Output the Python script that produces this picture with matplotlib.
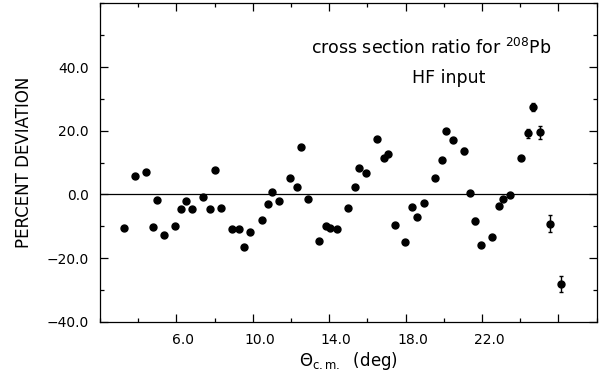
import matplotlib
matplotlib.use("Agg")
import matplotlib.pyplot as plt
import matplotlib.transforms as mtransforms
from matplotlib.ticker import MultipleLocator, FixedLocator

# scattering angle (deg) and percent deviation
theta = [3.26, 3.82, 4.39, 4.76, 4.97, 5.34, 5.91, 6.26, 6.49, 6.83,
         7.41, 7.77, 8.00, 8.35, 8.93, 9.28, 9.52, 9.85, 10.46, 10.81,
         11.02, 11.39, 11.96, 12.31, 12.54, 12.90, 13.45, 13.83, 14.02, 14.39,
         14.97, 15.33, 15.56, 15.93, 16.50, 16.85, 17.06, 17.43, 17.98, 18.35,
         18.58, 18.95, 19.52, 19.89, 20.13, 20.48, 21.06, 21.39, 21.63, 21.96,
         22.54, 22.89, 23.12, 23.48, 24.06, 24.42, 24.65, 25.02, 25.58, 26.14]
deviation = [-10.6, 5.9, 6.9, -10.4, -1.9, -12.7, -10.0, -4.6, -2.1, -4.7,
             -0.8, -4.7, 7.8, -4.4, -11.0, -10.9, -16.6, -11.9, -8.1, -3.1,
             0.75, -2.2, 5.3, 2.4, 14.9, -1.5, -14.7, -9.8, -10.6, -11.0,
             -4.4, 2.4, 8.2, 6.7, 17.3, 11.3, 12.6, -9.7, -14.9, -3.9,
             -7.1, -2.7, 5.2, 10.8, 19.9, 17.2, 13.6, 0.4, -8.4, -15.8,
             -13.4, -3.6, -1.4, -0.3, 11.3, 19.2, 27.5, 19.5, -9.2, -28.2]
error = [0, 0, 0, 0, 0, 0, 0, 0, 0, 0,
         0, 0, 0, 0, 0, 0, 0, 0, 0, 0,
         0, 0, 0, 0, 0, 0, 0, 0, 0, 0,
         0, 0, 0, 0, 0, 0, 0, 0, 0, 0,
         0, 0, 0, 0, 0, 0, 1.0, 0, 1.0, 0,
         0, 0, 0, 0, 0, 1.4, 1.2, 2.1, 2.6, 2.5]

x_labels = ["6.0", "10.0", "14.0", "18.0", "22.0"]
y_labels = ["-40.0", "-20.0", "0.0", "20.0", "40.0"]

fig = plt.figure(figsize=(6.01, 3.77), dpi=100)
ax = fig.add_axes([0.1664, 0.1467, 0.8264, 0.8443])

ax.axhline(0, color="black", lw=0.9)
ax.plot(theta, deviation, "o", color="black", ms=5)
# only draw bars where an error was visible
ex = [t for t, e in zip(theta, error) if e > 0]
ey = [d for d, e in zip(deviation, error) if e > 0]
ee = [e for e in error if e > 0]
ax.errorbar(ex, ey, yerr=ee, fmt="none", ecolor="black", elinewidth=1, capsize=1.5)

ax.set_xlim(2, 28)
ax.set_ylim(-40, 60)

ax.xaxis.set_major_locator(FixedLocator([6, 10, 14, 18, 22, 26]))
ax.xaxis.set_minor_locator(MultipleLocator(2))
ax.set_xticklabels(x_labels + [""])
ax.yaxis.set_major_locator(FixedLocator([-40, -20, 0, 20, 40]))
ax.yaxis.set_minor_locator(MultipleLocator(10))
ax.set_yticklabels([s.replace("-", "\u2212") for s in y_labels])

ax.tick_params(which="both", direction="in", top=True, right=True, width=0.9)
ax.tick_params(which="major", length=6)
ax.tick_params(which="minor", length=3)
ax.tick_params(axis="x", pad=8, labelsize=10)
ax.tick_params(axis="y", pad=8, labelsize=10)
for lab in ax.get_xticklabels():
    lab.set_transform(lab.get_transform() + mtransforms.ScaledTranslation(0.07, 0, fig.dpi_scale_trans))

for s in ax.spines.values():
    s.set_linewidth(0.9)

ax.set_ylabel("PERCENT DEVIATION", fontsize=12, labelpad=10)
ax.set_xlabel(r"$\Theta_{\rm c.m.}$  (deg)", fontsize=12, labelpad=2)

ax.text(0.667, 0.86, r"cross section ratio for $^{208}$Pb", transform=ax.transAxes,
        ha="center", va="center", fontsize=12.5)
ax.text(0.702, 0.766, "HF input", transform=ax.transAxes, ha="center", va="center", fontsize=12.5)

fig.savefig("out.png", dpi=100)
